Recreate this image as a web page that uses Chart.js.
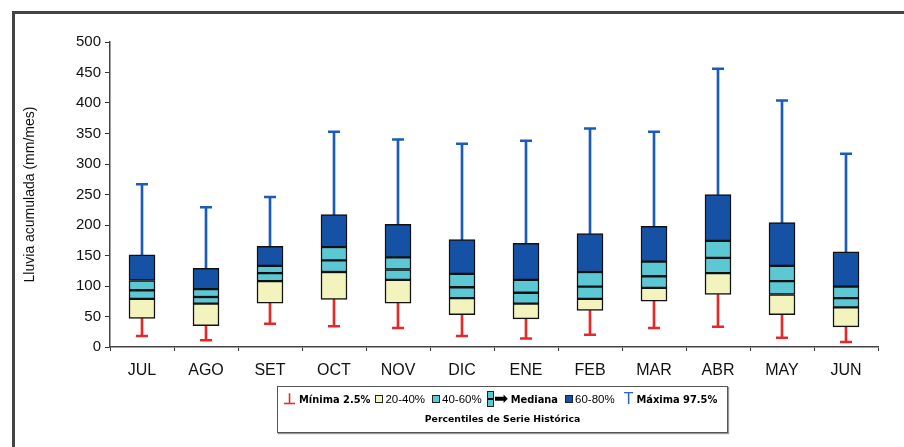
<!DOCTYPE html>
<html>
<head>
<meta charset="utf-8">
<script src="https://cdn.jsdelivr.net/npm/chart.js@4"></script>
<style>
  body { margin: 0; background: #fff; }
  #wrap { position: relative; width: 904px; height: 447px; overflow: hidden; }
  #frame { position: absolute; left: 12px; top: 11px; width: 900px; height: 440px;
           border-left: 3px solid #444; border-top: 3px solid #444; }
  canvas { position: absolute; left: 0; top: 0; }
  #leyenda { position: absolute; left: 277px; top: 386px; width: 449px; height: 45px;
             border: 1px solid #555; box-shadow: 1px 1px 1px #999; background: #fff;
             font-family: "Liberation Sans", Arial, sans-serif; color: #000; }
  #fila1 { position: absolute; top: 3px; left: 5px; white-space: nowrap; font-size: 11.5px; }
  #fila1 span { display: inline-block; vertical-align: middle; }
  .b { font-weight: bold; font-family: "DejaVu Sans", Verdana, sans-serif; font-size: 9.9px; }
  .sq { width: 6px; height: 6px; border: 1px solid #222; margin: 0 2px 0 5px; }
  #fila2 { position: absolute; top: 26px; width: 100%; text-align: center;
           font-family: "DejaVu Sans", Verdana, sans-serif; font-size: 9.3px; font-weight: bold; }
</style>
</head>
<body>
<div id="wrap">
  <div id="frame"></div>
  <canvas id="cajas" width="904" height="447"></canvas>
  <div id="leyenda">
    <div id="fila1">
      <span style="color:#e82828;font-weight:bold;font-size:15px;margin-right:3px">&#8869;</span><span class="b">Mínima 2.5%</span><span class="sq" style="background:#f3f3be"></span><span>20-40%</span><span class="sq" style="background:#5cc8d3;margin-left:7px"></span><span>40-60%</span><span style="width:5px;height:14px;border:1px solid #222;background:linear-gradient(#5cc8d3 44%,#111 44%,#111 58%,#5cc8d3 58%);margin-left:5px"></span><span style="font-size:17px;line-height:12px;margin:0 3px 0 0">&#10145;</span><span class="b">Mediana</span><span class="sq" style="background:#1551a4;margin-left:7px"></span><span>60-80%</span><span style="color:#2a62c0;font-size:16px;margin:0 3px 0 9px">T</span><span class="b">Máxima 97.5%</span>
    </div>
    <div id="fila2">Percentiles de Serie Histórica</div>
  </div>
</div>
<script>
// meses (julio a junio)
const meses = ['JUL','AGO','SET','OCT','NOV','DIC','ENE','FEB','MAR','ABR','MAY','JUN'];

// percentiles (mm/mes)
const minima  = [18, 11, 38, 34, 31, 18, 14, 20, 31, 33, 15,  8];
const p20     = [47, 35, 72, 78, 72, 53, 46, 60, 75, 86, 53, 33];
const p40     = [79, 71,108,123,110, 80, 71, 79, 97,121, 86, 65];
const mediana = [93, 82,121,142,127, 98, 89, 99,116,146,108, 80];
const p60     = [109,95,133,164,147,120,110,123,140,174,133, 99];
const p80     = [151,129,165,217,201,176,170,186,198,250,204,156];
const maxima  = [267,229,246,353,340,333,338,358,353,456,404,317];

const rango = (a, b) => a.map((v, i) => [v, b[i]]);

const caja = (datos, color) => ({
  type: 'bar', data: datos, backgroundColor: color,
  borderColor: '#111', borderWidth: 1.5, borderSkipped: false,
  barThickness: 26, order: 1
});
const bigote = (datos, color) => ({
  type: 'bar', data: datos, backgroundColor: color,
  borderWidth: 0, barThickness: 2, order: 2
});
const tope = (datos, color) => ({
  type: 'line', data: datos, showLine: false,
  pointStyle: 'line', pointRadius: 6, pointBorderWidth: 2.5,
  pointBorderColor: color, pointBackgroundColor: color, order: 0
});

const ctx = document.getElementById('cajas').getContext('2d');
new Chart(ctx, {
  data: {
    labels: meses,
    datasets: [
      bigote(rango(minima, p20), '#e82828'),
      bigote(rango(p80, maxima), '#1a5cb8'),
      caja(rango(p20, p40), '#f3f3be'),
      caja(rango(p40, mediana), '#5cc8d3'),
      caja(rango(mediana, p60), '#5cc8d3'),
      caja(rango(p60, p80), '#1551a4'),
      tope(minima, '#e82828'),
      tope(maxima, '#1a5cb8')
    ]
  },
  options: {
    responsive: false,
    animation: false,
    layout: { padding: { left: 20, top: 42, right: 26, bottom: 60 } },
    datasets: { bar: { grouped: false } },
    plugins: { legend: { display: false }, tooltip: { enabled: false } },
    scales: {
      x: {
        offset: true,
        grid: { offset: true, drawOnChartArea: false, color: '#333', tickLength: 4 },
        border: { color: '#444', width: 1.5 },
        ticks: { color: '#111', padding: 10, font: { family: 'Liberation Sans', size: 16 } },
        afterFit: s => { s.height = 40; }
      },
      y: {
        min: 0, max: 500,
        ticks: { stepSize: 50, color: '#111', padding: 4, font: { family: 'Liberation Sans', size: 15 } },
        grid: { drawOnChartArea: false, color: '#333', tickLength: 5 },
        border: { color: '#444', width: 1.5 },
        title: { display: true, text: 'Lluvia acumulada (mm/mes)', color: '#111',
                 font: { family: 'Liberation Sans', size: 14 }, padding: { top: 2, bottom: 0 } },
        afterFit: s => { s.width = 90; }
      }
    }
  }
});
</script>
</body>
</html>
